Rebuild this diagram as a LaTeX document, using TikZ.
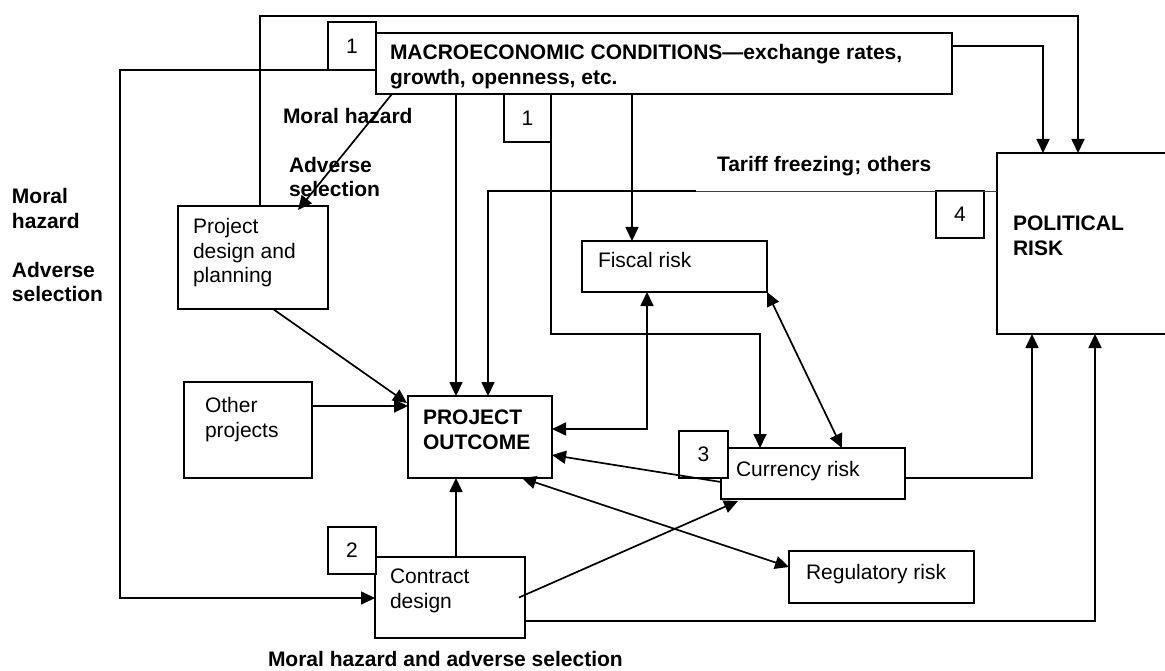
\documentclass[tikz,border=0pt]{standalone}
\usepackage{fontspec}
\setmainfont{Liberation Sans}
\usetikzlibrary{arrows.meta,calc}
\tikzset{
  boxsty/.style={draw, line width=2pt, fill=white, rectangle, inner sep=0pt, outer sep=0pt, font=\fontsize{21}{24.5}\selectfont},
  boxline/.style={line width=2pt},
  txt/.style={inner sep=0pt, outer sep=0pt, font=\fontsize{21}{24.5}\selectfont, align=left, anchor=base west},
  btxt/.style={txt, font=\fontsize{21}{24.5}\selectfont\bfseries},
  conn/.style={line width=1.7pt, -{Triangle[length=14pt,width=13pt]}},
  dconn/.style={line width=1.7pt, {Triangle[length=14pt,width=13pt]}-{Triangle[length=14pt,width=13pt]}},
  thinln/.style={line width=0.9pt, black!75},
}
\newcommand\mkbox[6]{\node[boxsty, minimum width={(#4-#2)*1pt}, minimum height={(#5-#3)*1pt}] (#1) at ({(#2+#4)/2},{(#3+#5)/2}) {#6};}
\begin{document}
\begin{tikzpicture}[x=1pt,y=-1pt]
\useasboundingbox[fill=white] (0,0) rectangle (1165,671);
% boxes
\mkbox{macro}{376}{33}{952}{94}{}
\mkbox{b1a}{328}{22}{376}{70}{1}
\mkbox{b1b}{504}{94}{551}{142}{1}
\mkbox{pd}{178}{206}{328}{309}{}
\mkbox{op}{184}{382}{312}{478}{}
\mkbox{po}{408}{396}{552}{478}{}
\mkbox{fiscal}{582}{241}{767}{292}{}
\mkbox{b4}{936}{191}{984}{238}{4}
\node[inner sep=0pt, outer sep=0pt, minimum width=168pt, minimum height=181pt] (pol) at (1081,243.5) {};
\draw[boxline] (pol.north east) -- (pol.north west) -- (pol.south west) -- (pol.south east);
\mkbox{cur}{721}{448}{905}{499}{}
\mkbox{b3}{679}{431}{728}{478}{3}
\mkbox{reg}{789}{551}{974}{603}{}
\mkbox{cd}{375}{557}{525}{638}{}
\mkbox{b2}{328}{527}{376}{574}{2}
% texts (anchor = baseline of the last line)
\node[btxt] (tmacro) at (390,84.5) {MACROECONOMIC CONDITIONS—exchange rates,\\growth, openness, etc.};
\node[btxt] (tmh) at (283,124) {Moral hazard};
\node[btxt] (tas) at (289,197) {Adverse\\selection};
\node[btxt] (tleft) at (12,301.5) {Moral\\hazard\\[24.5pt]Adverse\\selection};
\node[txt] (tpd) at (193,283) {Project\\design and\\planning};
\node[txt] (top) at (205,437) {Other\\projects};
\node[btxt] (tpo) at (423,449) {PROJECT\\OUTCOME};
\node[txt] (tfis) at (598,268) {Fiscal risk};
\node[btxt] (ttar) at (717,172) {Tariff freezing; others};
\node[btxt] (tpol) at (1013,255) {POLITICAL\\RISK};
\node[txt] (tcur) at (736,476) {Currency risk};
\node[txt] (treg) at (806,579) {Regulatory risk};
\node[txt] (tcd) at (390,608) {Contract\\design};
\node[btxt] (tbot) at (268,666) {Moral hazard and adverse selection};
% connectors
\draw[conn] ($(pd.north west)+(82,0)$) -- ++(0,-190) -| ($(pol.north west)+(81,0)$);
\draw[conn] (b1a.south west) -- ++(-208,0) |- ($(cd.north west)+(0,41)$);
\draw[conn] ($(macro.south west)+(16,0)$) -- ($(pd.north west)+(120,4)$);
\draw[conn] ($(macro.south west)+(80,0)$) -- ($(po.north west)+(48,0)$);
\draw[conn] (b1b.north east) -- ($(b1b.north east)+(0,240)$) -| ($(cur.north west)+(39,0)$);
\coordinate (tbreak) at (696,191);
\draw[thinln] ($(pol.north west)+(0,38)$) -- (tbreak);
\draw[conn] (tbreak) -| ($(po.north west)+(80,0)$);
\draw[conn] ($(macro.south west)+(256,0)$) -- ($(fiscal.north west)+(50,0)$);
\draw[conn] ($(macro.north east)+(0,13)$) -| ($(pol.north west)+(46,0)$);
\draw[conn] ($(pd.south west)+(95,0)$) -- ($(po.north west)+(-1,7)$);
\draw[conn] ($(op.north east)+(0,24)$) -- ($(po.north west)+(0,10)$);
\draw[dconn] ($(fiscal.south west)+(65,0)$) |- ($(po.north east)+(0,33)$);
\draw[dconn] (fiscal.south east) -- ($(cur.north west)+(121,0)$);
\draw[conn] ($(cur.north east)+(0,30)$) -| ($(pol.south west)+(35,0)$);
\draw[conn] ($(cur.north west)+(0,34)$) -- ($(po.north east)+(0,59)$);
\draw[dconn] ($(po.south east)+(-30,0)$) -- ($(reg.north west)+(0,16)$);
\draw[conn] ([xshift=-6pt]cd.east) -- ($(cur.south west)+(17,2)$);
\draw[conn] ($(cd.north west)+(81,0)$) -- ($(po.south west)+(48,0)$);
\draw[conn] ($(cd.south east)+(0,-17)$) -| ($(pol.south west)+(98,0)$);
\end{tikzpicture}
\end{document}
